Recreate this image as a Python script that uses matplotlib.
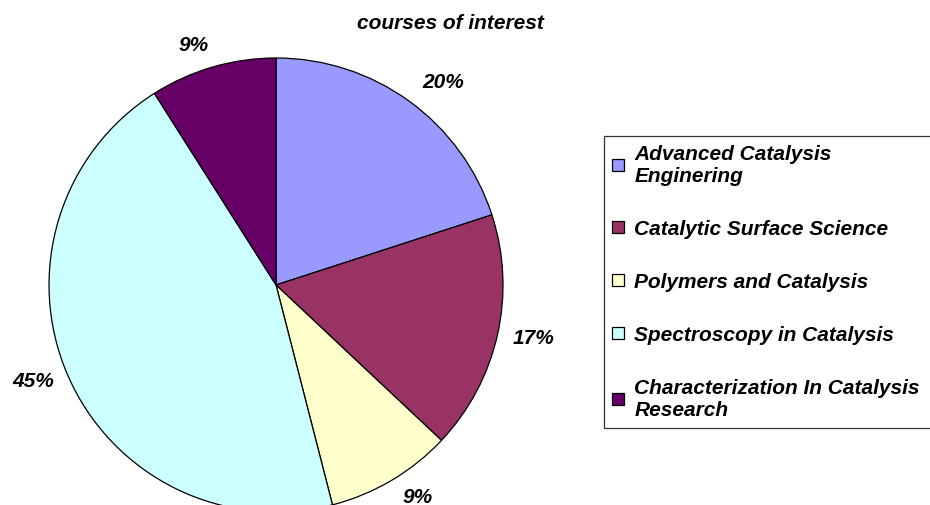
import numpy as np
import matplotlib.pyplot as plt
from matplotlib.patches import Patch

# data
courses = ['Advanced Catalysis\nEnginering', 'Catalytic Surface Science',
           'Polymers and Catalysis', 'Spectroscopy in Catalysis',
           'Characterization In Catalysis\nResearch']
shares = [20, 17, 9, 45, 9]
colors = ['#9999FF', '#993366', '#FFFFCC', '#CCFFFF', '#660066']

# label placement (radius, angle nudge in degrees), Excel-like
label_dist = [1.16, 1.16, 1.12, 1.15, 1.12]
label_turn = [-3.3, 1.0, 3.2, -1.9, 2.8]

plt.rcParams['font.family'] = ['Liberation Sans', 'DejaVu Sans']
font = dict(weight='bold', style='italic')

fig = plt.figure(figsize=(9.3, 5.06), dpi=100)
ax = fig.add_axes([0.0527, -0.0138, 0.4882, 0.8972])

wedges, texts, autotexts = ax.pie(
    shares, colors=colors, startangle=90, counterclock=False,
    autopct='%1.0f%%',
    wedgeprops=dict(edgecolor='black', linewidth=0.9),
    textprops=dict(fontsize=15, **font))
ax.set_xlim(-1, 1)
ax.set_ylim(-1, 1)
ax.set_aspect('equal')
for w, t, d, turn in zip(wedges, autotexts, label_dist, label_turn):
    ang = np.deg2rad((w.theta1 + w.theta2) / 2 + turn)
    t.set_position((d * np.cos(ang), d * np.sin(ang)))
    t.set_clip_on(False)

fig.text(0.484, 0.953, 'courses of interest', ha='center', va='center',
         fontsize=15, **font)

# legend box runs off the right edge like in the original
handles = [Patch(facecolor=c, edgecolor='black', linewidth=0.9) for c in colors]
leg = fig.legend(handles, courses, loc='upper left', mode='expand',
                 bbox_to_anchor=(0.6495, 0.0, 0.365, 0.729), borderaxespad=0,
                 frameon=True, fancybox=False, edgecolor='black',
                 handlelength=0.55, handleheight=0.55, handletextpad=0.5,
                 labelspacing=1.63, borderpad=0.4,
                 prop=dict(size=15, **font))
leg.get_frame().set_linewidth(0.9)

fig.savefig('out.png', dpi=100)
